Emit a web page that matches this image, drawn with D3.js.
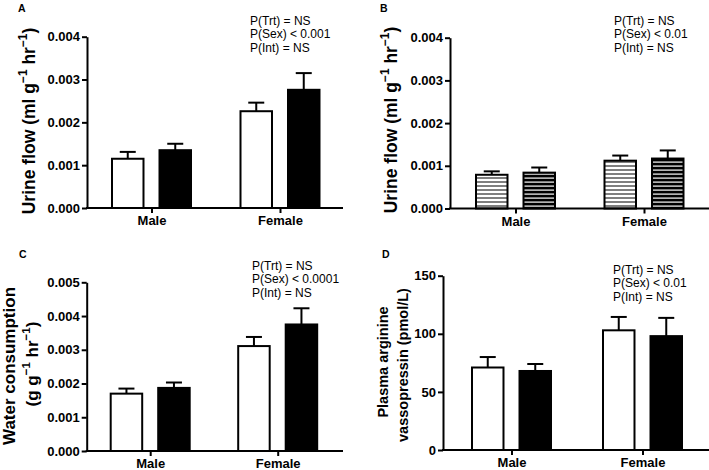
<!DOCTYPE html>
<html>
<head>
<meta charset="utf-8">
<script src="https://cdn.jsdelivr.net/npm/d3@7"></script>
<style>
  body { margin: 0; background: #fff; }
  svg { display: block; }
  text { font-family: "Liberation Sans", Arial, sans-serif; fill: #000; }
</style>
</head>
<body>
<svg id="chart" width="709" height="470"></svg>
<script>
// ---------- DATA ----------
const sexes = ["Male", "Female"];
const treatments = ["Control", "Treatment"];

// Panel A: urine flow (ml g-1 hr-1)
const urineA_ctrl = [0.00115, 0.00226];
const urineA_ctrl_err = [0.00016, 0.00020];
const urineA_trt = [0.00135, 0.00276];
const urineA_trt_err = [0.00015, 0.00039];

// Panel B: urine flow (ml g-1 hr-1), hatched groups
const urineB_ctrl = [0.00079, 0.00112];
const urineB_ctrl_err = [0.00008, 0.00012];
const urineB_trt = [0.00084, 0.00117];
const urineB_trt_err = [0.00012, 0.00019];

// Panel C: water consumption (g g-1 hr-1)
const waterC_ctrl = [0.00170, 0.00311];
const waterC_ctrl_err = [0.00015, 0.00027];
const waterC_trt = [0.00187, 0.00375];
const waterC_trt_err = [0.00016, 0.00048];

// Panel D: plasma arginine vasopressin (pmol/L)
const avpD_ctrl = [71, 103];
const avpD_ctrl_err = [9, 11.5];
const avpD_trt = [68, 98];
const avpD_trt_err = [6, 15.7];

// Tick labels
const ticksAB = [0, 0.001, 0.002, 0.003, 0.004];
const ticksC = [0, 0.001, 0.002, 0.003, 0.004, 0.005];
const ticksD = [0, 50, 100, 150];

// Statistics annotations
const statsA = ["P(Trt) = NS", "P(Sex) < 0.001", "P(Int) = NS"];
const statsB = ["P(Trt) = NS", "P(Sex) < 0.01", "P(Int) = NS"];
const statsC = ["P(Trt) = NS", "P(Sex) < 0.0001", "P(Int) = NS"];
const statsD = ["P(Trt) = NS", "P(Sex) < 0.01", "P(Int) = NS"];

// ---------- DRAWING ----------
const svg = d3.select("#chart");
const FONT = '"Liberation Sans", Arial, sans-serif';

const defs = svg.append("defs");
const pw = defs.append("pattern").attr("id", "hatchW")
  .attr("patternUnits", "userSpaceOnUse").attr("width", 8).attr("height", 4);
pw.append("rect").attr("width", 8).attr("height", 4).attr("fill", "#fff");
pw.append("rect").attr("y", 1.5).attr("width", 8).attr("height", 1).attr("fill", "#000");
const pb = defs.append("pattern").attr("id", "hatchB")
  .attr("patternUnits", "userSpaceOnUse").attr("width", 8).attr("height", 4);
pb.append("rect").attr("width", 8).attr("height", 4).attr("fill", "#000");
pb.append("rect").attr("y", 1.5).attr("width", 8).attr("height", 1.2).attr("fill", "#fff");

function addLabelText(g, parts, size) {
  // parts: array of [text, isSuperscript]
  parts.forEach(([t, sup], i) => {
    const ts = g.append("tspan").text(t);
    if (sup) {
      ts.attr("font-size", size * 0.68).attr("dy", -size * 0.42);
    } else {
      ts.attr("font-size", size);
      if (i > 0 && parts[i - 1][1]) ts.attr("dy", size * 0.42);
    }
  });
}

function drawPanel(cfg) {
  const g = svg.append("g");
  const y = d3.scaleLinear().domain([0, cfg.max]).range([cfg.y0, cfg.yTop]);
  const x = d3.scalePoint().domain(sexes).range([cfg.x0 + cfg.g0, cfg.x0 + cfg.g1]);
  const inner = d3.scaleBand().domain(treatments).range([-39.5, 39.5]).paddingInner(0.337);

  const series = [
    { t: "Control", vals: cfg.ctrl, errs: cfg.ctrlErr, fill: cfg.hatched ? "url(#hatchW)" : "#fff" },
    { t: "Treatment", vals: cfg.trt, errs: cfg.trtErr, fill: cfg.hatched ? "url(#hatchB)" : "#000" }
  ];
  const bars = [];
  series.forEach(s => sexes.forEach((sex, i) => bars.push({ sex, t: s.t, v: s.vals[i], e: s.errs[i], fill: s.fill })));

  // error bars (upper only)
  const eb = g.append("g").attr("stroke", "#000").attr("stroke-width", 2).attr("fill", "none");
  bars.forEach(b => {
    const cx = x(b.sex) + inner(b.t) + inner.bandwidth() / 2;
    eb.append("line").attr("x1", cx).attr("x2", cx).attr("y1", y(b.v)).attr("y2", y(b.v + b.e));
    eb.append("line").attr("x1", cx - 8).attr("x2", cx + 8).attr("y1", y(b.v + b.e)).attr("y2", y(b.v + b.e));
  });

  g.append("g").selectAll("rect").data(bars).join("rect")
    .attr("x", d => x(d.sex) + inner(d.t))
    .attr("width", inner.bandwidth())
    .attr("y", d => y(d.v))
    .attr("height", d => y(0) - y(d.v))
    .attr("fill", d => d.fill)
    .attr("stroke", "#000").attr("stroke-width", 2);

  // y axis
  const ya = g.append("g").attr("transform", `translate(${cfg.x0},0)`)
    .call(d3.axisLeft(y).tickValues(cfg.ticks).tickSize(5).tickSizeOuter(0).tickFormat(cfg.fmt));
  ya.select(".domain").attr("stroke-width", 2);
  ya.selectAll(".tick line").attr("stroke-width", 2);
  ya.selectAll(".tick text").attr("font-family", FONT).attr("font-weight", "bold")
    .attr("font-size", 13).attr("x", -7);

  // x axis
  g.append("line").attr("x1", cfg.x0 - 1).attr("x2", cfg.xEnd).attr("y1", cfg.y0).attr("y2", cfg.y0)
    .attr("stroke", "#000").attr("stroke-width", 2);
  const xa = g.append("g").attr("transform", `translate(0,${cfg.y0})`)
    .call(d3.axisBottom(x).tickSize(5).tickSizeOuter(0));
  xa.select(".domain").remove();
  xa.selectAll(".tick line").attr("stroke-width", 2);
  xa.selectAll(".tick text").attr("font-family", FONT).attr("font-weight", "bold")
    .attr("font-size", 13).attr("y", 8);

  // panel letter
  g.append("text").attr("x", cfg.lx).attr("y", cfg.ly).attr("font-weight", "bold")
    .attr("font-size", 10.5).text(cfg.letter);

  // stats
  g.append("g").selectAll("text").data(cfg.stats).join("text")
    .attr("x", cfg.sx).attr("y", (d, i) => cfg.sy + i * 13.6)
    .attr("font-size", 12).text(d => d);

  // y label lines
  cfg.ylabel.forEach(l => {
    const t = g.append("text")
      .attr("transform", `translate(${l.x},${l.y}) rotate(-90)`)
      .attr("text-anchor", "middle").attr("dy", "0.35em")
      .attr("font-weight", "bold");
    addLabelText(t, l.parts, l.size);
  });
}

const fmt3 = d3.format(".3f");
const fmtD = d3.format("d");

drawPanel({
  letter: "A", lx: 18, ly: 12,
  x0: 87, xEnd: 343, g0: 64.5, g1: 193, y0: 208, yTop: 36.7, max: 0.004,
  ticks: ticksAB, fmt: fmt3,
  ctrl: urineA_ctrl, ctrlErr: urineA_ctrl_err, trt: urineA_trt, trtErr: urineA_trt_err,
  stats: statsA, sx: 250, sy: 24.5,
  ylabel: [{ x: 29, y: 121, size: 17.5, parts: [["Urine flow (ml g", 0], ["−1", 1], [" hr", 0], ["−1", 1], [")", 0]] }]
});
drawPanel({
  letter: "B", lx: 380, ly: 12,
  x0: 450, xEnd: 709, g0: 65.5, g1: 194, y0: 208.5, yTop: 37.7, max: 0.004,
  ticks: ticksAB, fmt: fmt3, hatched: true,
  ctrl: urineB_ctrl, ctrlErr: urineB_ctrl_err, trt: urineB_trt, trtErr: urineB_trt_err,
  stats: statsB, sx: 614, sy: 24.5,
  ylabel: [{ x: 391, y: 120, size: 17.5, parts: [["Urine flow (ml g", 0], ["−1", 1], [" hr", 0], ["−1", 1], [")", 0]] }]
});
drawPanel({
  letter: "C", lx: 19, ly: 258,
  x0: 86.7, xEnd: 343, g0: 63.5, g1: 191, y0: 451, yTop: 282.3, max: 0.005,
  ticks: ticksC, fmt: fmt3,
  ctrl: waterC_ctrl, ctrlErr: waterC_ctrl_err, trt: waterC_trt, trtErr: waterC_trt_err,
  stats: statsC, sx: 252, sy: 269.5,
  ylabel: [
    { x: 9.5, y: 366, size: 17, parts: [["Water consumption", 0]] },
    { x: 32, y: 364, size: 17, parts: [["(g g", 0], ["−1", 1], [" hr", 0], ["−1", 1], [")", 0]] }
  ]
});
drawPanel({
  letter: "D", lx: 382, ly: 258,
  x0: 443, xEnd: 709, g0: 68.5, g1: 199.5, y0: 450, yTop: 275.7, max: 150,
  ticks: ticksD, fmt: fmtD,
  ctrl: avpD_ctrl, ctrlErr: avpD_ctrl_err, trt: avpD_trt, trtErr: avpD_trt_err,
  stats: statsD, sx: 613, sy: 273.5,
  ylabel: [
    { x: 382, y: 362, size: 14.5, parts: [["Plasma arginine", 0]] },
    { x: 402, y: 365, size: 14.5, parts: [["vassopressin (pmol/L)", 0]] }
  ]
});
</script>
</body>
</html>
